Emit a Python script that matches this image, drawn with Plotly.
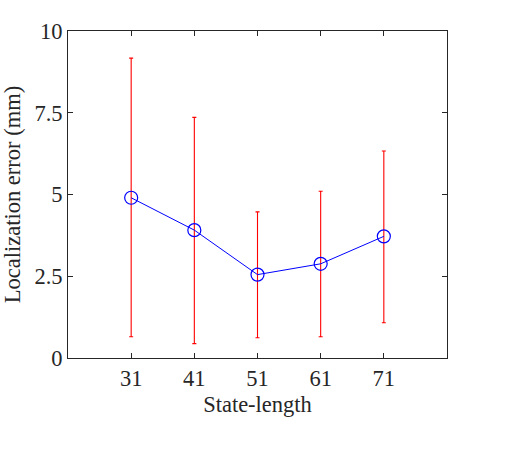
import plotly.graph_objects as go

state_length = [31, 41, 51, 61, 71]
mean_error = [4.90, 3.91, 2.55, 2.88, 3.72]
upper_bound = [9.17, 7.36, 4.47, 5.10, 6.33]
lower_bound = [0.65, 0.44, 0.62, 0.65, 1.08]
y_ticks = [0, 2.5, 5, 7.5, 10]
y_tick_text = ["0", "2.5", "5", "7.5", "10"]

err_plus = [u - m for u, m in zip(upper_bound, mean_error)]
err_minus = [m - l for m, l in zip(mean_error, lower_bound)]

fig = go.Figure()
fig.add_trace(go.Scatter(
    x=state_length, y=mean_error, mode="lines+markers",
    line=dict(color="#0000ff", width=1),
    marker=dict(symbol="circle-open", size=13, color="#0000ff", line=dict(width=1.2)),
    error_y=dict(type="data", symmetric=False, array=err_plus, arrayminus=err_minus,
                 color="#ff0000", thickness=1.1, width=2),
    showlegend=False,
))

font = dict(family="Liberation Serif, Times New Roman, serif", size=22.5, color="#262626")
axis_common = dict(showgrid=False, zeroline=False, showline=True, linecolor="#262626",
                   linewidth=1, mirror="ticks", ticks="inside", ticklen=5,
                   tickcolor="#262626", tickfont=font)
fig.update_layout(
    width=525, height=450,
    margin=dict(l=68, r=78, t=31, b=92),
    paper_bgcolor="white", plot_bgcolor="white",
    font=font,
    xaxis=dict(range=[21, 81], tickvals=state_length,
               title=dict(text="State-length", font=font, standoff=6), **axis_common),
    yaxis=dict(range=[0, 10], tickvals=y_ticks, ticktext=y_tick_text,
               title=dict(text="Localization error (mm)", font=font, standoff=8), **axis_common),
)
fig.write_html("out.html")
